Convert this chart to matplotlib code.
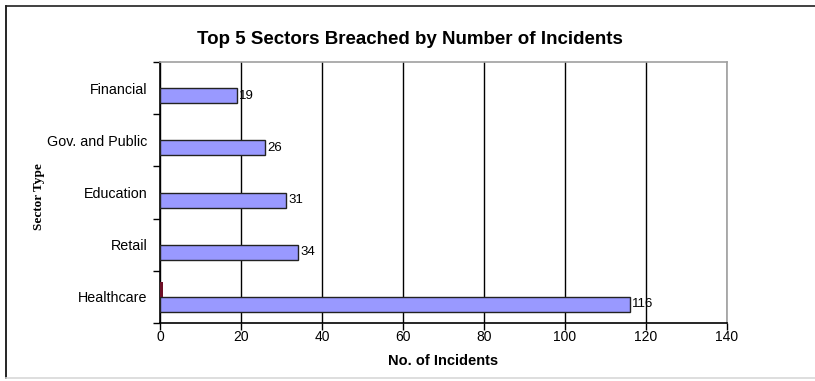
import matplotlib
matplotlib.use("Agg")
import matplotlib.pyplot as plt
from matplotlib.lines import Line2D
import numpy as np

categories = ["Healthcare", "Retail", "Education", "Gov. and Public", "Financial"]
incidents = [116, 34, 31, 26, 19]
second_series = [0.8, 0, 0, 0, 0]
x_ticks = [0, 20, 40, 60, 80, 100, 120, 140]

plt.rcParams['font.family'] = ['Liberation Sans', 'DejaVu Sans']

W, H = 815, 381
fig = plt.figure(figsize=(W / 100, H / 100), dpi=100)
ax = fig.add_axes([160 / W, 1 - 323 / H, (727 - 160) / W, (323 - 62) / H])

y = np.arange(len(categories))
h = 15 / 52.2
ax.barh(y - h / 2, incidents, height=h, color='#9999FF', edgecolor='#222222', linewidth=1.0, zorder=3)
ax.barh(y + h / 2, second_series, height=h, color='#6e0f26', linewidth=0, zorder=3)

for yi, v in zip(y, incidents):
    ax.text(v + 0.6, yi - h / 2, str(v), va='center', ha='left', fontsize=9.5, color='black', zorder=4)

ax.set_xlim(0, 140)
ax.set_ylim(-0.5, len(categories) - 0.5)
ax.set_xticks(x_ticks)
ax.set_xticklabels([str(t) for t in x_ticks], fontsize=10)
ax.set_yticks(y)
ax.set_yticklabels(categories, fontsize=10.3)
ax.set_yticks(np.arange(-0.5, len(categories), 1.0), minor=True)
ax.tick_params(axis='y', which='major', length=0, pad=9)
ax.tick_params(axis='y', which='minor', length=5, width=1, direction='out', color='black')
ax.tick_params(axis='x', which='major', length=5, width=1, direction='out', color='black', pad=0)

ax.grid(axis='x', color='black', linewidth=1, zorder=0)
ax.set_axisbelow(True)
for s in ['left', 'bottom']:
    ax.spines[s].set_color('black')
    ax.spines[s].set_linewidth(1.2)
for s in ['top', 'right']:
    ax.spines[s].set_color('#a0a0a0')
    ax.spines[s].set_linewidth(1.2)

fig.text(443 / W, 1 - 361 / H, "No. of Incidents", ha='center', va='center',
         fontsize=10.5, fontweight='bold')
fig.text(39 / W, 1 - 197 / H, "Sector Type", rotation=90, ha='center', va='center',
         fontsize=9.5, fontweight='bold', family=['Liberation Serif', 'DejaVu Serif'])

fig.text(410 / W, 1 - 39 / H, "Top 5 Sectors Breached by Number of Incidents",
         ha='center', va='center', fontsize=13.5, fontweight='bold')

# chart border
fig.add_artist(Line2D([6 / W, 6 / W], [1 - 6 / H, 1 - 378 / H], color='black', linewidth=1.2, transform=fig.transFigure))
fig.add_artist(Line2D([6 / W, 1.0], [1 - 6 / H, 1 - 6 / H], color='#202020', linewidth=1.2, transform=fig.transFigure))
fig.add_artist(Line2D([6 / W, 1.0], [1 - 378 / H, 1 - 378 / H], color='#d8d8d8', linewidth=1.2, transform=fig.transFigure))

fig.savefig("out.png", dpi=100)
